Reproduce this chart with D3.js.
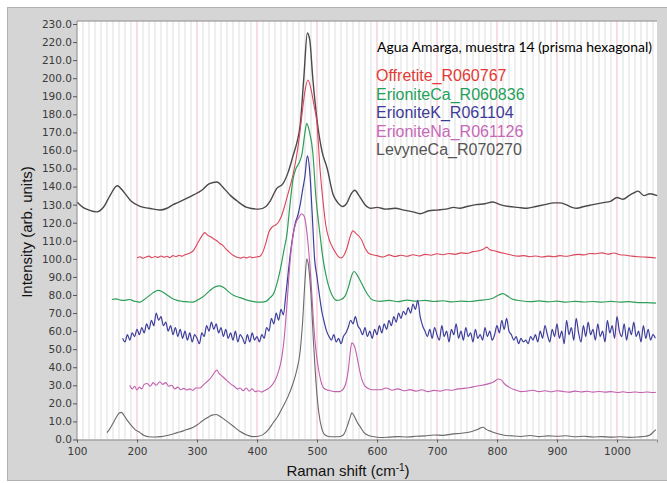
<!DOCTYPE html>
<html>
<head>
<meta charset="utf-8">
<script src="https://cdn.jsdelivr.net/npm/d3@7"></script>
<style>
  body { margin: 0; background: #fff; }
  svg { display: block; }
</style>
</head>
<body>
<div id="chart"></div>
<script>
(() => {
    const xTicks = [100, 200, 300, 400, 500, 600, 700, 800, 900, 1000];
    const yTicks = d3.range(0, 231, 10);
    const titulo = "Agua Amarga, muestra 14 (prisma hexagonal)";
    const nombres = ["Offretite_R060767", "ErioniteCa_R060836", "ErioniteK_R061104", "ErioniteNa_R061126", "LevyneCa_R070270"];
    const coloresLeyenda = ["#e33a36", "#25a05a", "#3c3c96", "#c768b8", "#555555"];

    const muestra = [[100,131.5],[110,128.5],[120,127],[133,126],[145,129],[155,135],[167,140.5],[178,137],[190,132],[205,129],[220,128],[238,127],[250,128],[260,130],[267,131],[280,133],[295,135.5],[308,138],[320,141.5],[333,142.5],[345,139],[356,135],[367,132],[383,128.5],[403,127.5],[415,129],[422,132],[433,139],[443,141.5],[452,148],[460,157],[467,165],[472,174],[478,200],[484,225],[488,221],[493,200],[500,177],[508,160],[517,150],[527,135.5],[535,131],[543,129],[550,131],[557,136],[563,138],[570,135],[580,130],[590,128],[600,128.5],[615,127.5],[630,128],[645,127],[660,126],[672,125],[685,126.5],[700,127],[715,127.5],[728,128.5],[738,128],[750,129],[765,130],[780,130.5],[793,131.5],[805,130],[820,129],[835,128.5],[850,128],[865,129],[880,130],[895,131],[905,131],[915,130],[925,128.5],[933,128],[945,129],[960,130],[975,131],[990,132],[1000,134],[1010,133],[1020,135],[1028,136.5],[1035,137.5],[1045,135],[1055,136],[1067,135]];

    const offretite = [[200,100.5],[205,101.2],[210,100.3],[215,101],[220,101.5],[225,100.6],[230,101.3],[235,100.8],[240,101.6],[245,100.9],[250,101.4],[255,100.7],[260,101.8],[265,101.2],[270,102],[275,101.5],[280,102.3],[285,102.8],[290,103.5],[295,105],[300,108],[305,111],[310,113.5],[313,114.5],[318,113],[323,112.2],[328,111],[333,110],[338,108.5],[343,107.5],[348,105.5],[353,104],[358,102.5],[363,101.5],[368,100.8],[373,100.4],[378,101],[383,100.5],[388,101.2],[393,100.6],[398,101],[405,101.5],[410,104],[415,109],[420,115],[425,117.5],[430,118.5],[435,120],[440,123],[445,128],[450,134],[455,140],[460,146.5],[465,155],[470,166],[475,180],[480,193],[485,199],[490,194],[495,185],[500,175],[505,150],[510,132],[515,118],[520,111],[525,107],[530,104],[535,101.5],[540,100.5],[545,102],[550,106],[555,112],[560,115.5],[565,114],[570,112.5],[575,110],[580,106],[585,103.5],[590,102.5],[600,101.8],[610,101],[620,102.2],[630,101.3],[640,102],[650,101.4],[660,102.3],[670,101.6],[680,102.5],[690,102],[700,102.8],[710,102.3],[720,103],[730,102.5],[740,103.3],[750,103],[760,104],[770,104.5],[778,105.5],[783,106.5],[788,105],[795,104.5],[805,103.6],[815,102.8],[825,102],[835,101.5],[845,101.8],[855,101.2],[865,101.6],[875,101],[885,101.5],[895,101.2],[905,101.8],[915,101.4],[925,102],[935,102.5],[945,102.2],[955,103],[965,102.8],[975,103.3],[985,102.6],[995,103.2],[1005,102.3],[1015,102],[1025,101.5],[1035,101.2],[1045,101],[1055,100.8],[1065,100.5]];

    const erioniteCa = [[158,77.5],[165,77.8],[172,77.2],[180,77],[188,77.5],[195,76.6],[200,76.3],[205,76],[212,77.5],[220,79.5],[228,81.5],[235,82.5],[242,81.8],[250,80],[258,78.2],[267,77],[275,76.5],[285,76.2],[293,76],[300,77],[310,79],[320,82],[330,84.5],[338,85],[345,84],[352,82],[360,80],[372,78.5],[385,77],[395,76.3],[405,76],[415,76.5],[422,78.5],[428,81],[433,86],[440,96],[445,105],[450,114],[455,130],[460,144],[465,150],[470,153],[475,158],[480,170],[483,175],[487,171],[493,159],[498,135],[505,113.5],[510,100],[517,88],[525,80],[533,77],[540,77.5],[547,79.5],[553,85],[558,91],[562,93],[567,91],[572,88],[578,84],[585,80],[593,77.2],[605,76.5],[620,77],[635,76.3],[650,77.2],[665,76.6],[680,77],[695,76.4],[710,76.8],[725,76.2],[740,76.6],[755,76.4],[770,77],[785,77.5],[795,78.5],[803,80],[810,80.8],[817,79.5],[825,77.8],[840,76.8],[855,76.3],[870,76.7],[885,76.2],[900,76.6],[915,76],[930,76.5],[945,76.1],[960,76.4],[975,76],[990,76.5],[1005,76],[1020,76.3],[1035,75.8],[1050,75.8],[1065,75.5]];

    const erioniteK = [[176,56],[180,54],[184,58],[188,55],[192,59],[196,57],[200,61],[204,58],[208,62],[212,59],[216,64],[220,61],[224,66],[228,63],[232,70],[236,66],[240,68],[244,63],[248,65],[252,60],[256,63],[260,58],[264,62],[268,57],[272,61],[276,56],[280,60],[284,55],[288,59],[292,54],[296,58],[300,56],[304,53],[308,59],[312,57],[316,63],[320,60],[324,65],[328,61],[332,64],[336,59],[340,62],[344,57],[348,61],[352,56],[356,59],[360,55],[364,60],[368,54],[372,58],[376,56],[380,53],[384,58],[388,54],[392,59],[396,55],[400,57],[404,54],[408,58],[412,56],[416,62],[420,60],[424,67],[428,64],[432,70],[436,66],[440,72],[444,69],[448,80],[452,92],[456,104],[460,113],[464,120],[468,124],[472,130],[476,138],[480,146],[484,157],[488,148],[492,125],[496,100],[500,90],[504,80],[508,71],[512,65],[516,60],[520,57],[524,55],[528,58],[532,54],[536,56],[540,53],[544,57],[548,59],[552,62],[556,66],[560,64],[564,68],[568,63],[572,61],[576,58],[580,62],[584,57],[588,60],[592,56],[596,61],[600,58],[604,63],[608,59],[612,64],[616,61],[620,66],[624,63],[628,68],[632,65],[636,70],[640,67],[644,71],[648,69],[652,73],[656,70],[660,75],[664,72],[668,77],[672,68],[676,63],[680,60],[684,57],[688,61],[692,56],[696,62],[700,58],[704,55],[708,63],[712,57],[716,60],[720,54],[724,61],[728,58],[732,64],[736,56],[740,60],[744,55],[748,62],[752,57],[756,59],[760,54],[764,61],[768,56],[772,58],[776,55],[780,62],[784,57],[788,60],[792,55],[796,58],[800,63],[804,59],[808,66],[812,61],[816,67],[820,60],[824,58],[828,55],[832,57],[836,53],[840,56],[844,54],[848,55],[852,53],[856,57],[860,55],[864,58],[868,54],[872,60],[876,56],[880,63],[884,58],[888,54],[892,61],[896,57],[900,64],[904,56],[908,60],[912,53],[916,66],[920,58],[924,62],[928,55],[932,67],[936,59],[940,54],[944,63],[948,57],[952,65],[956,58],[960,61],[964,55],[968,64],[972,57],[976,60],[980,54],[984,66],[988,59],[992,63],[996,56],[1000,68],[1004,60],[1008,57],[1012,64],[1016,55],[1020,62],[1024,58],[1028,65],[1032,57],[1036,60],[1040,54],[1044,63],[1048,56],[1052,61],[1056,55],[1060,58],[1064,56]];

    const erioniteNa = [[188,30],[192,28],[196,29.5],[200,27.4],[204,29],[208,28],[212,30.5],[217,31],[222,29.5],[227,31.5],[232,30],[238,32],[243,30.5],[248,31.5],[253,29.5],[258,30],[263,28],[268,29],[273,27.5],[278,28.3],[283,27.4],[288,28],[293,27.2],[298,28.5],[305,28.5],[310,30],[315,31.5],[320,33],[325,35],[330,37.5],[333,38.5],[337,36.5],[342,35],[347,33.5],[352,32],[357,30.5],[362,29.5],[367,28],[372,28.5],[377,27],[382,28.5],[387,26.8],[392,28],[397,26.5],[402,27],[407,26.3],[412,27],[417,27.8],[422,29],[427,31],[432,34],[436,38],[440,43],[445,55],[450,75],[455,98],[460,113],[465,120],[470,123],[474,125],[478,124],[482,118],[486,105],[490,88],[494,66],[498,50],[502,40],[506,33],[510,29],[516,27.5],[522,27],[530,26.5],[538,26.5],[544,28],[548,31],[552,38],[555,47],[558,53.5],[562,52],[566,47],[570,40],[575,33],[580,29.5],[587,28],[595,27.5],[605,27.5],[615,28.5],[625,27.3],[635,28],[645,27],[655,27.6],[665,26.8],[675,27.5],[685,26.5],[695,27.2],[705,26.8],[715,27.5],[725,27.3],[735,28],[745,28.3],[755,28.8],[765,29.5],[775,30],[785,30.8],[795,32],[802,33.5],[807,33],[812,31],[820,29],[830,27.5],[840,26.5],[850,26.8],[860,27.3],[870,26.5],[880,27],[890,26.4],[900,27],[910,26.6],[920,26.2],[930,26.8],[940,26.3],[950,26.7],[960,26.2],[970,26.6],[980,26.2],[990,26.5],[1000,26],[1010,26.4],[1020,26],[1030,26.3],[1040,26],[1050,26.3],[1060,26],[1065,26.2]];

    const levyneCa = [[150,3.8],[155,6],[160,9],[165,12],[170,14.5],[174,15],[178,13.5],[183,11],[190,8],[197,5.5],[205,3.8],[212,2.2],[220,1.5],[230,1.4],[240,1.6],[250,2.2],[260,3],[267,3.8],[275,4.5],[283,5.5],[293,6.6],[300,8],[310,10.5],[317,12],[325,13.5],[332,13.8],[340,12.5],[350,10],[360,7.5],[372,4.4],[382,2.6],[393,1.6],[402,1.8],[410,2.7],[418,5],[427,9.3],[435,13],[443,18],[452,24],[460,31],[466,38],[472,49],[476,65],[480,88],[483,100],[486,96],[490,80],[494,55],[498,33],[503,15],[508,6],[512,3],[518,1.8],[525,1.5],[533,1.5],[540,1.8],[545,3],[550,7],[555,12],[558,14.8],[562,13],[567,9.5],[572,7],[578,4],[585,2.3],[595,1.5],[605,1.1],[620,1.3],[635,1.6],[650,1.4],[665,1.8],[680,2],[695,2.5],[710,2.3],[725,3],[740,3.5],[755,4.2],[765,5.2],[772,6.3],[777,6.8],[782,5.6],[790,4.5],[800,3.3],[810,2.5],[825,2],[840,1.7],[855,2.2],[870,1.6],[885,2],[900,1.8],[915,2.1],[930,1.5],[945,1.8],[960,1.4],[975,1.6],[990,1.3],[1005,1.5],[1020,1.2],[1035,1.4],[1048,1.8],[1055,2.5],[1060,4],[1065,5.5]];

    const series = [
        { datos: muestra, color: "#4a4a4a", ancho: 1.4 },
        { datos: offretite, color: "#d9465a", ancho: 1.1 },
        { datos: erioniteCa, color: "#2e9e58", ancho: 1.2 },
        { datos: erioniteK, color: "#3e3e9c", ancho: 1.2 },
        { datos: erioniteNa, color: "#c25eae", ancho: 1.1 },
        { datos: levyneCa, color: "#6a6a6a", ancho: 1.1 }
    ];

    const width = 667;
    const height = 483;
    const margin = { top: 21, right: 10, bottom: 43.5, left: 77 };

    const svg = d3.select("#chart")
        .append("svg")
        .attr("width", width)
        .attr("height", height);

    // Panel gris de fondo
    svg.append("rect")
        .attr("x", 7.5).attr("y", 7.5)
        .attr("width", width - 7).attr("height", height - 10)
        .attr("fill", "#d5d5d5")
        .attr("stroke", "#b0b0b0");

    const x = d3.scaleLinear([100, 1066.7], [margin.left, width - margin.right]);
    const y = d3.scaleLinear([0, 230], [height - margin.bottom, 24]);

    svg.append("rect")
        .attr("x", margin.left).attr("y", margin.top)
        .attr("width", width - margin.right - margin.left)
        .attr("height", height - margin.bottom - margin.top)
        .attr("fill", "#fff");

    // Rejilla vertical: menor cada 10, mayor (rosa) cada 100
    const menores = d3.range(110, 1061, 10).filter(v => v % 100 !== 0);
    svg.append("g").selectAll("line")
        .data(menores)
        .join("line")
        .attr("x1", d => x(d)).attr("x2", d => x(d))
        .attr("y1", margin.top).attr("y2", height - margin.bottom)
        .attr("stroke", "#dedede")
        .attr("stroke-width", 1);

    svg.append("g").selectAll("line")
        .data(xTicks.filter(d => d > 100))
        .join("line")
        .attr("x1", d => x(d)).attr("x2", d => x(d))
        .attr("y1", margin.top).attr("y2", height - margin.bottom)
        .attr("stroke", "#f3b9c8")
        .attr("stroke-width", 1);

    const linea = d3.line()
        .x(d => x(d[0]))
        .y(d => y(d[1]))
        .curve(d3.curveMonotoneX);

    svg.append("g")
        .selectAll("path")
        .data(series)
        .join("path")
        .attr("fill", "none")
        .attr("stroke", d => d.color)
        .attr("stroke-width", d => d.ancho)
        .attr("stroke-linejoin", "round")
        .attr("d", d => linea(d.datos));

    // Marco del área de trazado
    svg.append("path")
        .attr("d", `M${margin.left},${height - margin.bottom}V${margin.top}H${width - margin.right}`)
        .attr("fill", "none")
        .attr("stroke", "#8a8a8a");

    // Ejes
    svg.append("g")
        .attr("transform", `translate(${margin.left},0)`)
        .call(d3.axisLeft(y).tickValues(yTicks).tickFormat(d3.format(".1f")).tickSize(4).tickPadding(1))
        .call(g => g.select(".domain").remove())
        .call(g => g.selectAll(".tick line").attr("stroke", "#555"))
        .call(g => g.selectAll(".tick text")
            .attr("fill", "#3a3a3a")
            .style("font-family", "DejaVu Sans, sans-serif")
            .style("font-size", "10.5px"));

    svg.append("g")
        .attr("transform", `translate(0,${height - margin.bottom})`)
        .call(d3.axisBottom(x).tickValues(xTicks).tickFormat(d3.format("d")).tickSize(3).tickPadding(5))
        .call(g => g.select(".domain").attr("stroke", "#8a8a8a"))
        .call(g => g.selectAll(".tick line").attr("stroke", "#555"))
        .call(g => g.selectAll(".tick text")
            .attr("fill", "#3a3a3a")
            .style("font-family", "DejaVu Sans, sans-serif")
            .style("font-size", "10.5px"));

    // Títulos de ejes
    const xt = svg.append("text")
        .attr("x", 348).attr("y", 476)
        .attr("text-anchor", "middle")
        .attr("fill", "#111")
        .style("font-family", "Liberation Sans, Arial, sans-serif")
        .style("font-size", "15px");
    xt.append("tspan").text("Raman shift (cm");
    xt.append("tspan").attr("dy", -5).style("font-size", "10px").text("-1");
    xt.append("tspan").attr("dy", 5).text(")");

    svg.append("text")
        .attr("transform", "translate(32,232) rotate(-90)")
        .attr("text-anchor", "middle")
        .attr("fill", "#111")
        .style("font-family", "Liberation Sans, Arial, sans-serif")
        .style("font-size", "15px")
        .text("Intensity (arb. units)");

    // Título y leyenda
    svg.append("text")
        .attr("x", 377).attr("y", 51.5)
        .attr("fill", "#000")
        .attr("textLength", 275)
        .attr("lengthAdjust", "spacingAndGlyphs")
        .style("font-family", "Lato, sans-serif")
        .style("font-size", "14px")
        .text(titulo);

    svg.append("g")
        .selectAll("text")
        .data(nombres)
        .join("text")
        .attr("x", 376)
        .attr("y", (d, i) => 81 + i * 18.5)
        .attr("fill", (d, i) => coloresLeyenda[i])
        .style("font-family", "Liberation Sans, Arial, sans-serif")
        .style("font-size", "16px")
        .text(d => d);
})();
</script>
</body>
</html>
